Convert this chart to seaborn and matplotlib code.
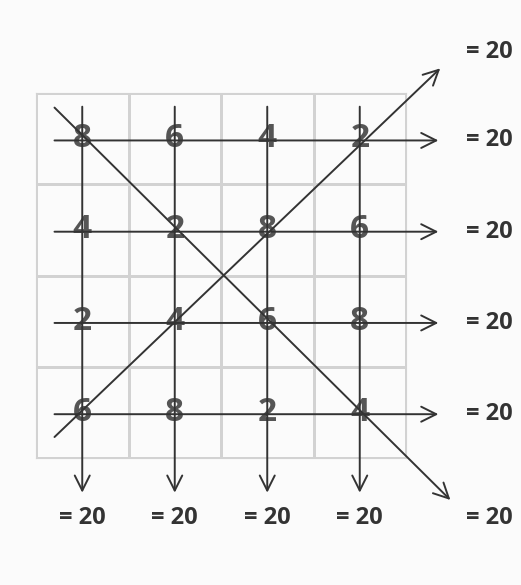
import numpy as np
import pandas as pd
import matplotlib
matplotlib.use("Agg")
import matplotlib.pyplot as plt
from matplotlib.colors import ListedColormap
import seaborn as sns

# magic square, every row / column / diagonal sums to 20
square = [[8, 6, 4, 2],
          [4, 2, 8, 6],
          [2, 4, 6, 8],
          [6, 8, 2, 4]]
total_label = "= 20"

sns.set_theme(style="white")
plt.rcParams["font.family"] = ["Open Sans", "DejaVu Sans"]

W, H = 521, 585
fig = plt.figure(figsize=(W / 100, H / 100), dpi=100, facecolor="#fbfbfb")

# grid placed in pixel terms: left 36, right 406, top 93, bottom 458
gl, gr, gt, gb = 36, 406, 93, 458
ax = fig.add_axes([gl / W, (H - gb) / H, (gr - gl) / W, (gb - gt) / H])

df = pd.DataFrame(square)
sns.heatmap(df, ax=ax, cmap=ListedColormap(["#fbfbfb"]), cbar=False,
            annot=True, fmt="d", linewidths=0.8, linecolor="#d2d2d2",
            annot_kws=dict(fontsize=24, fontweight="bold", color="#555555"))
ax.set_xticks([])
ax.set_yticks([])
for s in ax.spines.values():
    s.set_visible(True)
    s.set_color("#d2d2d2")
    s.set_linewidth(0.8)

n = len(square)
arrow = dict(arrowstyle="->,head_length=0.9,head_width=0.45", lw=1.4,
             color="#333333", shrinkA=0, shrinkB=0)

def draw_arrow(start, end):
    ax.annotate("", xy=end, xytext=start, arrowprops=arrow, annotation_clip=False)

txt = dict(fontsize=17, fontweight="bold", color="#333333",
           ha="center", va="center", clip_on=False)

# rows
for i in range(n):
    draw_arrow((0.2, i + 0.52), (4.35, i + 0.52))
    ax.text(4.9, i + 0.52, total_label, **txt)
# columns
for j in range(n):
    draw_arrow((j + 0.5, 0.15), (j + 0.5, 4.38))
    ax.text(j + 0.5, 4.66, total_label, **txt)
# diagonals
draw_arrow((0.2, 0.16), (4.48, 4.46))
ax.text(4.9, 4.66, total_label, **txt)
draw_arrow((0.2, 3.77), (4.37, -0.27))
ax.text(4.9, -0.45, total_label, **txt)

fig.savefig("out.png", dpi=100, facecolor=fig.get_facecolor())
